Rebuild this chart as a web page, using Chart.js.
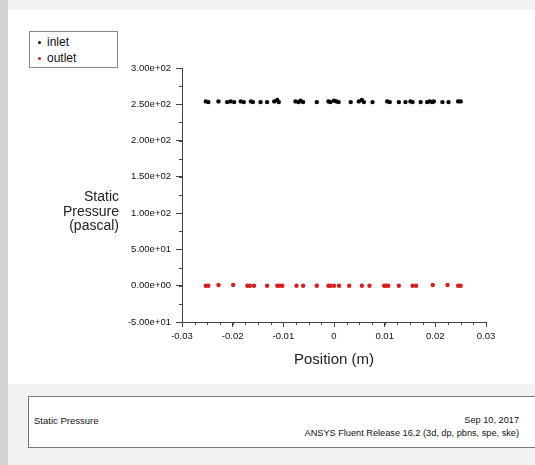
<!DOCTYPE html>
<html>
<head>
<meta charset="utf-8">
<script src="https://cdn.jsdelivr.net/npm/chart.js@4/dist/chart.umd.min.js"></script>
<style>
  html, body { margin: 0; padding: 0; }
  body { width: 535px; height: 465px; position: relative; overflow: hidden; background: #f2f2f2; font-family: "Liberation Sans", Arial, sans-serif; }
  #strip { position: absolute; left: 0; top: 0; width: 8px; height: 465px; background: #d2d2d2; }
  #panel { position: absolute; left: 8px; top: 10px; width: 527px; height: 374px; background: #ffffff; }
  #chart { position: absolute; left: 0; top: 0; }
  #legend { position: absolute; left: 29px; top: 31px; width: 87px; height: 35px; border: 1px solid #8a8a8a; background: #fff; font-size: 12px; color: #111; }
  #legend div { position: absolute; left: 17px; line-height: 13px; }
  #legend span { position: absolute; left: -9px; top: 5px; width: 3px; height: 3px; border-radius: 50%; }
  #ytitle { position: absolute; left: 40px; top: 189px; width: 79px; text-align: right; font-size: 14px; line-height: 14.5px; color: #222; }
  #xtitle { position: absolute; left: 234px; width: 200px; top: 350px; text-align: center; font-size: 15px; line-height: 17px; color: #222; }
  #footer { position: absolute; left: 28px; top: 396px; width: 520px; height: 50px; border: 1px solid #777; background: #fff; font-size: 9.5px; color: #111; }
  #ftitle { position: absolute; left: 5px; top: 18px; }
  #fright { position: absolute; right: 30px; top: 17px; text-align: right; line-height: 13px; font-size: 9.2px; }
</style>
</head>
<body>
<div id="strip"></div>
<div id="panel"></div>
<canvas id="chart" width="535" height="465"></canvas>
<div id="legend">
  <div style="top:4px"><span style="background:#000"></span>inlet</div>
  <div style="top:20px"><span style="background:#d81e1e"></span>outlet</div>
</div>
<div id="ytitle">Static<br>Pressure<br>(pascal)</div>
<div id="xtitle">Position (m)</div>
<div id="footer">
  <div id="ftitle">Static Pressure</div>
  <div id="fright">Sep 10, 2017<br>ANSYS Fluent Release 16.2 (3d, dp, pbns, spe, ske)</div>
</div>
<script>
// Sample positions along the line (m) and static pressure (Pa)
const inletX = [-0.0253, -0.0248, -0.0228, -0.0211, -0.0204, -0.0197, -0.0184, -0.0178, -0.0164, -0.0160,
  -0.0145, -0.0132, -0.0118, -0.0112, -0.0109, -0.0076, -0.0070, -0.0066, -0.0061, -0.0034,
  -0.0011, -0.0007, 0.0000, 0.0005, 0.0009, 0.0033, 0.0049, 0.0055, 0.0059, 0.0076,
  0.0105, 0.0110, 0.0128, 0.0141, 0.0151, 0.0155, 0.0171, 0.0184, 0.0189, 0.0194,
  0.0197, 0.0214, 0.0226, 0.0245, 0.0250];
const inletP = [254, 253, 254, 253, 254, 253, 254, 253, 254, 253,
  253, 253, 254, 256, 253, 254, 253, 255, 253, 253,
  254, 253, 255, 254, 253, 253, 254, 256, 253, 253,
  254, 253, 253, 253, 254, 253, 253, 253, 254, 253,
  254, 253, 253, 254, 254];
const outletX = [-0.0253, -0.0248, -0.0228, -0.0199, -0.0171, -0.0166, -0.0158, -0.0132, -0.0112, -0.0107,
  -0.0102, -0.0074, -0.0061, -0.0034, -0.0011, -0.0007, 0.0000, 0.0010, 0.0030, 0.0055,
  0.0070, 0.0099, 0.0103, 0.0107, 0.0128, 0.0155, 0.0162, 0.0195, 0.0224, 0.0245, 0.0250];
const outletP = [0, 0, 1, 1, 0, 0, 0, 0, 0, 0,
  0, 0, 0, 0, 0, 0, 0, 0, 0, 0,
  0, 0, 0, 0, 0, 0, 0, 1, 1, 0, 0];
const xTicks = [-0.03, -0.02, -0.01, 0, 0.01, 0.02, 0.03];
const yTicks = [-50, 0, 50, 100, 150, 200, 250, 300];

const pts = (xs, ys) => xs.map((x, i) => ({ x: x, y: ys[i] }));

// Minor ticks between the labelled ones
const minorTicks = {
  id: 'minorTicks',
  afterDraw(chart) {
    const ctx = chart.ctx;
    const xs = chart.scales.x, ys = chart.scales.y;
    ctx.save();
    ctx.strokeStyle = '#444';
    ctx.lineWidth = 1;
    ctx.beginPath();
    for (let v = -0.03; v <= 0.0301; v += 0.0025) {
      const px = Math.round(xs.getPixelForValue(v)) + 0.5;
      ctx.moveTo(px, xs.top); ctx.lineTo(px, xs.top + 3);
    }
    for (let v = -50; v <= 300; v += 25) {
      const py = Math.round(ys.getPixelForValue(v)) + 0.5;
      ctx.moveTo(ys.right - 3, py); ctx.lineTo(ys.right, py);
    }
    ctx.stroke();
    ctx.restore();
  }
};

new Chart(document.getElementById('chart'), {
  type: 'scatter',
  data: {
    datasets: [
      { label: 'inlet', data: pts(inletX, inletP), backgroundColor: '#000', borderColor: '#000', pointRadius: 2.2, pointBorderWidth: 0 },
      { label: 'outlet', data: pts(outletX, outletP), backgroundColor: '#d81e1e', borderColor: '#d81e1e', pointRadius: 2.2, pointBorderWidth: 0 }
    ]
  },
  options: {
    responsive: false,
    animation: false,
    layout: { padding: { left: 0, top: 68, right: 49, bottom: 0 } },
    plugins: { legend: { display: false }, tooltip: { enabled: false } },
    scales: {
      x: {
        type: 'linear', min: -0.03, max: 0.03,
        afterBuildTicks: s => { s.ticks = xTicks.map(v => ({ value: v })); },
        afterFit: s => { s.height = 143; },
        grid: { drawOnChartArea: false, tickLength: 5, color: '#444' },
        border: { color: '#444', width: 1 },
        ticks: { font: { family: 'Liberation Sans', size: 9.5 }, color: '#111', padding: 4, maxRotation: 0,
          callback: v => (v === 0 ? '0' : String(Math.round(v * 100) / 100)) }
      },
      y: {
        type: 'linear', min: -50, max: 300,
        afterBuildTicks: s => { s.ticks = yTicks.map(v => ({ value: v })); },
        afterFit: s => { s.width = 182; },
        grid: { drawOnChartArea: false, tickLength: 6, color: '#444' },
        border: { color: '#444', width: 1 },
        ticks: { font: { family: 'Liberation Sans', size: 9.5 }, color: '#111', padding: 5,
          callback: v => { const s = Number(v).toExponential(2); return s.replace(/e([+-])(\d)$/, 'e$10$2'); } }
      }
    }
  },
  plugins: [minorTicks]
});
</script>
</body>
</html>
